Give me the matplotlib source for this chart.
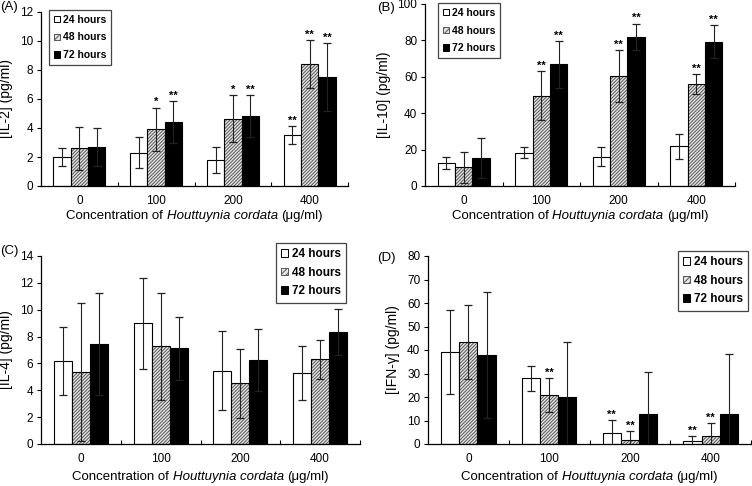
import matplotlib
matplotlib.use("Agg")
import matplotlib.pyplot as plt
from matplotlib.patches import Patch
import numpy as np

plt.rcParams['font.family'] = ['Liberation Sans', 'DejaVu Sans']
plt.rcParams['hatch.linewidth'] = 0.7

# concentration groups (ug/ml) and time points
groups = ['0', '100', '200', '400']
series = ['24 hours', '48 hours', '72 hours']

# (A) IL-2
il2_24 = [2.0, 2.3, 1.8, 3.5]
il2_24_err = [0.6, 1.05, 0.9, 0.63]
il2_48 = [2.6, 3.9, 4.65, 8.4]
il2_48_err = [1.5, 1.5, 1.6, 1.65]
il2_72 = [2.7, 4.4, 4.8, 7.5]
il2_72_err = [1.3, 1.45, 1.45, 2.35]
il2_stars = [['', '', '', '**'], ['', '*', '*', '**'], ['', '**', '**', '**']]

# (B) IL-10
il10_24 = [12.5, 18.3, 16.1, 21.8]
il10_24_err = [3.3, 3.0, 5.3, 6.8]
il10_48 = [10.3, 49.7, 60.2, 55.8]
il10_48_err = [8.6, 13.4, 14.3, 5.5]
il10_72 = [15.4, 66.8, 81.8, 79.3]
il10_72_err = [10.8, 12.8, 7.2, 9.0]
il10_stars = [['', '', '', ''], ['', '**', '**', '**'], ['', '**', '**', '**']]

# (C) IL-4
il4_24 = [6.18, 8.98, 5.47, 5.27]
il4_24_err = [2.55, 3.4, 2.97, 2.0]
il4_48 = [5.34, 7.27, 4.53, 6.31]
il4_48_err = [5.15, 4.0, 2.57, 1.46]
il4_72 = [7.42, 7.12, 6.26, 8.34]
il4_72_err = [3.8, 2.35, 2.32, 1.73]
il4_stars = [['', '', '', ''], ['', '', '', ''], ['', '', '', '']]

# (D) IFN-gamma
ifn_24 = [39.2, 28.0, 4.8, 1.3]
ifn_24_err = [17.9, 5.4, 5.3, 2.0]
ifn_48 = [43.5, 20.7, 1.7, 3.3]
ifn_48_err = [15.7, 7.2, 3.8, 5.5]
ifn_72 = [37.9, 20.1, 12.7, 12.7]
ifn_72_err = [26.9, 23.4, 18.0, 25.4]
ifn_stars = [['', '', '**', '**'], ['', '**', '**', '**'], ['', '', '', '']]

W, H = 752, 486
xlabel_parts = [('Concentration of', 'normal'), ('Houttuynia cordata', 'italic'), ('(μg/ml)', 'normal')]


def px_box(left, right, top, bottom):
    return [left / W, 1 - bottom / H, (right - left) / W, (bottom - top) / H]


def mixed_xlabel(fig, ax, y_px, size):
    # x label with an italic species name, laid out piece by piece
    renderer = fig.canvas.get_renderer()
    texts = [fig.text(0, 1 - y_px / H, s, style=st, fontsize=size, va='center')
             for s, st in xlabel_parts]
    widths = [t.get_window_extent(renderer).width for t in texts]
    gap = size * 100 / 72 * 0.27
    total = sum(widths) + gap * (len(texts) - 1)
    bb = ax.get_position()
    x = (bb.x0 + bb.x1) / 2 * W - total / 2
    for t, w in zip(texts, widths):
        t.set_x(x / W)
        x += w + gap


def panel(fig, box, vals, errs, stars, ylim, ystep, ylabel, tag, tag_xy, leg_xy, leg_size, leg_space, xlab_y):
    ax = fig.add_axes(box)
    index = np.arange(len(groups))
    bar_width = 0.225

    for i, (v, e) in enumerate(zip(vals, errs)):
        x = index + (i - 1) * bar_width
        if i == 0:
            ax.bar(x, v, bar_width, color='white', edgecolor='black', linewidth=0.8, zorder=2)
        elif i == 1:
            ax.bar(x, v, bar_width, color='#e6e6e6', edgecolor='#555555', hatch='//////////', linewidth=0, zorder=2)
            ax.bar(x, v, bar_width, color='none', edgecolor='black', linewidth=0.8, zorder=2)
        else:
            ax.bar(x, v, bar_width, color='black', edgecolor='black', linewidth=0.8, zorder=2)
        ax.errorbar(x, v, yerr=e, fmt='none', ecolor='#222222', elinewidth=0.8,
                    capsize=2.6, capthick=0.9, zorder=3)
        for xi, vi, ei, s in zip(x, v, e, stars[i]):
            if s:
                ax.annotate(s, (xi, vi + ei), xytext=(0, 0.5), textcoords='offset points',
                            ha='center', va='bottom', fontsize=8, fontweight='bold')

    ax.set_xlim(-0.5, len(groups) - 0.5)
    ax.set_ylim(0, ylim)
    ax.set_yticks(np.arange(0, ylim + 0.1, ystep))
    ax.set_xticks(index + 0.5)
    ax.set_xticklabels([])
    ax.set_xticks(index, minor=True)
    ax.set_xticklabels(groups, minor=True, fontsize=8.5)
    ax.tick_params(axis='x', which='major', direction='in', length=3, width=0.8)
    ax.tick_params(axis='x', which='minor', length=0, pad=6.5)
    ax.tick_params(axis='y', direction='out', length=3, width=0.8, labelsize=8.5, pad=2.5)
    for side in ['top', 'right']:
        ax.spines[side].set_visible(False)
    for side in ['left', 'bottom']:
        ax.spines[side].set_linewidth(0.9)

    ax.set_ylabel(ylabel, fontsize=10, labelpad=5)
    fig.text(tag_xy[0] / W, 1 - tag_xy[1] / H, tag, fontsize=9.5, ha='left', va='top')
    mixed_xlabel(fig, ax, xlab_y, 9.5)

    handles = [Patch(facecolor='white', edgecolor='black', linewidth=0.7),
               Patch(facecolor='#e6e6e6', edgecolor='#555555', hatch='//////', linewidth=0.7),
               Patch(facecolor='black', edgecolor='black', linewidth=0.7)]
    leg = ax.legend(handles, series, loc='upper left',
                    bbox_to_anchor=(leg_xy[0] / W, 1 - leg_xy[1] / H),
                    bbox_transform=fig.transFigure, fancybox=False, framealpha=1,
                    edgecolor='#444444', handlelength=0.6, handleheight=0.6,
                    handletextpad=0.3, labelspacing=leg_space, borderpad=0.45,
                    borderaxespad=0, prop={'weight': 'bold', 'size': leg_size})
    leg.get_frame().set_linewidth(0.9)
    return ax


fig = plt.figure(figsize=(W / 100, H / 100), dpi=100)

panel(fig, px_box(41, 348, 12, 186), [il2_24, il2_48, il2_72],
      [il2_24_err, il2_48_err, il2_72_err], il2_stars, 12, 2,
      '[IL-2] (pg/ml)', '(A)', (0, 1), (49, 10), 7.5, 0.75, 216)
panel(fig, px_box(425, 735, 4, 186), [il10_24, il10_48, il10_72],
      [il10_24_err, il10_48_err, il10_72_err], il10_stars, 100, 20,
      '[IL-10] (pg/ml)', '(B)', (377, 2), (438, 3), 7.5, 0.75, 216)
panel(fig, px_box(41, 360, 256, 444), [il4_24, il4_48, il4_72],
      [il4_24_err, il4_48_err, il4_72_err], il4_stars, 14, 2,
      '[IL-4] (pg/ml)', '(C)', (0, 245), (276, 243), 8.5, 0.55, 477)
panel(fig, px_box(428, 751, 256, 444), [ifn_24, ifn_48, ifn_72],
      [ifn_24_err, ifn_48_err, ifn_72_err], ifn_stars, 80, 10,
      '[IFN-γ] (pg/ml)', '(D)', (377, 252), (678, 251), 8.5, 0.55, 477)

fig.savefig('out.png', dpi=100)
